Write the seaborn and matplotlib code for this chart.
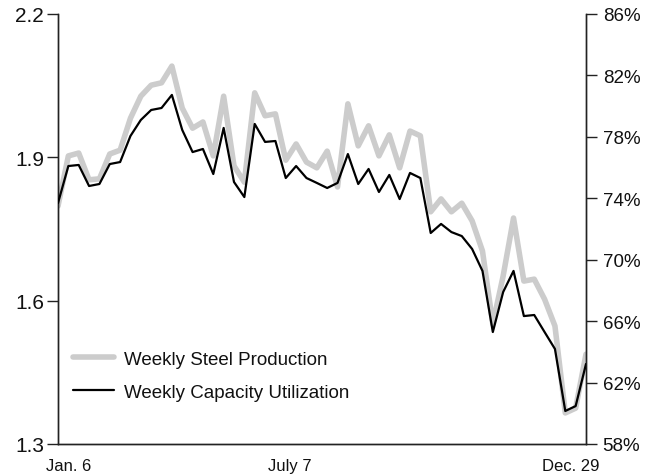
import matplotlib
matplotlib.use("Agg")
import matplotlib.pyplot as plt
import seaborn as sns
import pandas as pd
from matplotlib.lines import Line2D

# Weekly data, Jan. 6 through Dec. 29 (52 weeks)
weeks = list(range(52))
steel_production = [
    1.798, 1.903, 1.909, 1.853, 1.855, 1.907, 1.915, 1.982, 2.028, 2.051,
    2.056, 2.091, 2.003, 1.961, 1.974, 1.903, 2.028, 1.882, 1.848, 2.035,
    1.987, 1.991, 1.894, 1.928, 1.890, 1.878, 1.913, 1.838, 2.012, 1.924,
    1.966, 1.903, 1.947, 1.878, 1.955, 1.945, 1.786, 1.813, 1.786, 1.804,
    1.767, 1.704, 1.551, 1.652, 1.773, 1.641, 1.645, 1.603, 1.547, 1.365,
    1.375, 1.488,
]
capacity_utilization = [
    73.69, 76.10, 76.17, 74.80, 74.93, 76.23, 76.36, 78.06, 79.10, 79.75,
    79.88, 80.73, 78.45, 77.01, 77.21, 75.58, 78.58, 75.06, 74.08, 78.84,
    77.67, 77.73, 75.32, 76.10, 75.32, 75.00, 74.67, 75.00, 76.88, 74.93,
    75.91, 74.41, 75.52, 73.95, 75.65, 75.32, 71.74, 72.33, 71.80, 71.54,
    70.70, 69.27, 65.29, 67.90, 69.27, 66.33, 66.40, 65.29, 64.19, 60.15,
    60.47, 63.21,
]
x_tick_labels = ["Jan. 6", "July 7", "Dec. 29"]
x_tick_pos = [1.0, 22.4, 49.5]
left_ticks = [1.3, 1.6, 1.9, 2.2]
right_ticks = [58, 62, 66, 70, 74, 78, 82, 86]
series_names = ["Weekly Steel Production", "Weekly Capacity Utilization"]

df = pd.DataFrame({"week": weeks, "steel": steel_production, "util": capacity_utilization})

sns.set_theme(style="white")
plt.rcParams["font.family"] = ["Liberation Sans", "DejaVu Sans"]

fig = plt.figure(figsize=(6.47, 4.77), dpi=100)
ax = fig.add_axes([58/647, 1-445/477, (586-58)/647, (445-15)/477])
ax2 = ax.twinx()

gray = "#cccccc"
sns.lineplot(data=df, x="week", y="steel", ax=ax, color=gray, linewidth=4.0, zorder=2)
sns.lineplot(data=df, x="week", y="util", ax=ax2, color="black", linewidth=1.6, zorder=3)
ax.set_zorder(1)
ax2.set_zorder(2)
ax2.patch.set_visible(False)

ax.set_xlim(0, 51)
ax.set_ylim(1.3, 2.2)
ax2.set_ylim(58, 86)
ax.set_yticks(left_ticks)
ax.set_yticklabels([f"{v:.1f}" for v in left_ticks])
ax2.set_yticks(right_ticks)
ax2.set_yticklabels([f"{v}%" for v in right_ticks])
ax.set_xticks(x_tick_pos)
ax.set_xticklabels(x_tick_labels)
ax.set_xlabel("")
ax.set_ylabel("")
ax2.set_xlabel("")
ax2.set_ylabel("")

for a in (ax, ax2):
    a.spines["top"].set_visible(False)
    for side in ("left", "right", "bottom"):
        a.spines[side].set_color("#222222")
        a.spines[side].set_linewidth(1.0)

ax.tick_params(axis="y", which="both", left=True, right=False, direction="out",
               length=8, width=1.0, color="#222222", labelsize=15, pad=2, labelcolor="#111111")
ax2.tick_params(axis="y", which="both", right=True, left=False, direction="out",
                length=8, width=1.0, color="#222222", labelsize=13.5, pad=4, labelcolor="#111111")
ax.tick_params(axis="x", length=0, labelsize=12, pad=10, labelcolor="#111111")
ax2.tick_params(axis="x", length=0)

handles = [Line2D([], [], color=gray, linewidth=4.0),
           Line2D([], [], color="black", linewidth=1.6)]
leg = ax.legend(handles, series_names, loc="lower left", bbox_to_anchor=(0.028, 0.10),
                frameon=False, fontsize=13.5, handlelength=2.2, handletextpad=0.55,
                labelspacing=0.87, borderpad=0, borderaxespad=0)
for t in leg.get_texts():
    t.set_color("#111111")

fig.savefig("out.png", dpi=100)
